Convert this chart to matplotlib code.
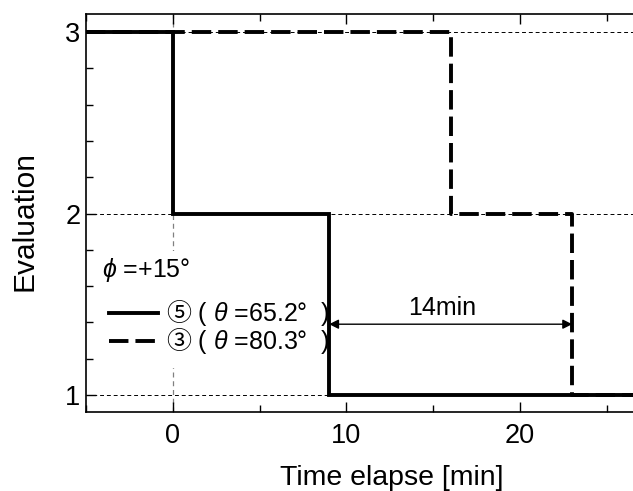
import matplotlib
matplotlib.use("Agg")
import matplotlib.pyplot as plt
from matplotlib.ticker import MultipleLocator

plt.rcParams["font.family"] = ["Liberation Sans", "DejaVu Sans"]
plt.rcParams["mathtext.fontset"] = "custom"
plt.rcParams["mathtext.it"] = "Liberation Sans:italic"
plt.rcParams["mathtext.rm"] = "Liberation Sans"
plt.rcParams["mathtext.sf"] = "Noto Sans CJK JP"

# step data: evaluation vs elapsed time
time_5 = [-5, 0, 0, 9, 9, 26.5]
eval_5 = [3, 3, 2, 2, 1, 1]
time_3 = [-5, 16, 16, 23, 23, 26.5]
eval_3 = [3, 3, 2, 2, 1, 1]

label_5 = "$\\mathsf{\u2464}$ ( $\\theta$ =65.2\u00b0  )"
label_3 = "$\\mathsf{\u2462}$ ( $\\theta$ =80.3\u00b0  )"
legend_title = "$\\phi$ =+15\u00b0"

gap_start, gap_end, gap_y = 9, 23, 1.39
gap_text = "14min"
gap_text_x = 15.5

fig = plt.figure(figsize=(6.33, 4.91), dpi=100)
ax = fig.add_axes([86 / 633, 1 - 412 / 491, 547 / 633, 398 / 491])

# reference grid lines
for y in (1, 2, 3):
    ax.axhline(y, color="black", lw=0.7, ls=(0, (4, 3)), zorder=1)
ax.axvline(0, color="gray", lw=0.9, ls=(0, (4, 3)), zorder=1)

ax.plot(time_5, eval_5, color="black", lw=2.8, solid_joinstyle="miter",
        label=label_5, zorder=4)
ax.plot(time_3, eval_3, color="black", lw=2.8, ls=(0, (5, 1.8)),
        label=label_3, zorder=3)

ax.annotate("", xy=(gap_start, gap_y), xytext=(gap_end, gap_y),
            arrowprops=dict(arrowstyle="<|-|>", color="black", lw=1.0,
                            mutation_scale=14, shrinkA=0, shrinkB=0))
ax.text(gap_text_x, gap_y + 0.025, gap_text, ha="center",
        va="bottom", fontsize=18)

ax.set_xlim(-5, 26.5)
ax.set_ylim(0.906, 3.1)
ax.xaxis.set_major_locator(MultipleLocator(10))
ax.xaxis.set_minor_locator(MultipleLocator(5))
ax.yaxis.set_major_locator(MultipleLocator(1))
ax.yaxis.set_minor_locator(MultipleLocator(0.2))
ax.tick_params(which="both", direction="in", top=True, right=False,
               labelsize=19.5, width=1.0)
ax.tick_params(which="major", length=7)
ax.tick_params(which="minor", length=5)
ax.tick_params(axis="x", pad=8)
ax.tick_params(axis="y", pad=4)
ax.spines["right"].set_visible(False)
for s in ("left", "bottom", "top"):
    ax.spines[s].set_linewidth(1.2)

ax.set_xlabel("Time elapse [min]", fontsize=20.5)
ax.set_ylabel("Evaluation", fontsize=21.5)
ax.xaxis.set_label_coords(0.559, -0.132)
ax.yaxis.set_label_coords(-0.086, 0.48)

leg = ax.legend(loc="upper left", bbox_to_anchor=(-0.002, 0.435),
                title=legend_title, fontsize=18, title_fontsize=18,
                frameon=True, handlelength=1.95, handletextpad=0.3,
                labelspacing=-0.08, borderpad=0.2)
leg.get_frame().set_edgecolor("none")
leg.get_frame().set_facecolor("white")
leg.get_frame().set_alpha(1)
leg._legend_box.align = "left"
leg._legend_box.sep = 5
leg._legend_handle_box.pad = 5
leg.set_zorder(2)

fig.savefig("out.png", dpi=100)
